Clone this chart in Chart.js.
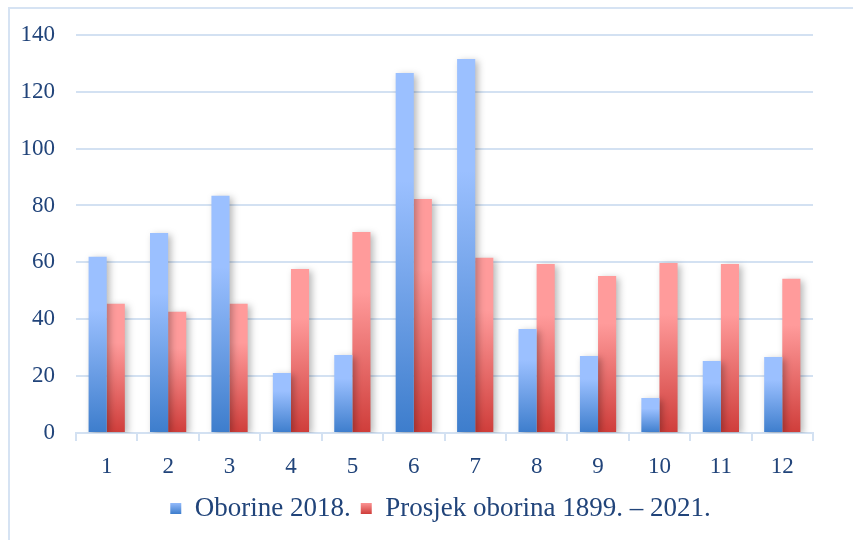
<!DOCTYPE html>
<html>
<head>
<meta charset="utf-8">
<script src="https://cdn.jsdelivr.net/npm/chart.js@4/dist/chart.umd.min.js"></script>
<style>
  html, body { margin: 0; padding: 0; background: #fff; }
  #wrap { width: 853px; height: 540px; position: relative; }
</style>
</head>
<body>
<div id="wrap"><canvas id="chart" width="853" height="540"></canvas></div>
<script>
// mjeseci
const months = ["1", "2", "3", "4", "5", "6", "7", "8", "9", "10", "11", "12"];
// Oborine 2018.
const rain2018 = [62, 70.3, 83.4, 21.1, 27.4, 126.6, 131.5, 36.6, 27.1, 12.3, 25.3, 26.7];
// Prosjek oborina 1899. - 2021.
const rainAvg = [45.4, 42.6, 45.4, 57.7, 70.7, 82.3, 61.6, 59.4, 55.2, 59.8, 59.4, 54.2];
const yTicks = [0, 20, 40, 60, 80, 100, 120, 140];

const textColor = "#21447a";
const gridColor = "#d3e1f2";
const blueTop = "#9bc0ff", blueBot = "#3d7dcc";
const redTop = "#ff9b9b", redBot = "#cf3d3a";

// gradient per bar, light on top, dark at the base
function grad(top, bottom, fallback) {
    return function (ctx) {
        const chart = ctx.chart;
        if (!chart.chartArea || ctx.type !== "data") return fallback;
        const y = chart.scales.y;
        const yTop = y.getPixelForValue(ctx.raw);
        const yBase = y.getPixelForValue(0);
        const g = chart.ctx.createLinearGradient(0, yTop, 0, yBase);
        g.addColorStop(0, top);
        g.addColorStop(0.3, top);
        g.addColorStop(1, bottom);
        return g;
    };
}

const shadow = {
    id: "shadow",
    beforeDatasetsDraw(chart) {
        const c = chart.ctx;
        c.save();
        c.shadowColor = "rgba(0,0,0,0.28)";
        c.shadowBlur = 7;
        c.shadowOffsetX = 3;
        c.shadowOffsetY = 2;
    },
    afterDatasetsDraw(chart) {
        chart.ctx.restore();
    }
};

const frame = {
    id: "frame",
    beforeDraw(chart) {
        const c = chart.ctx;
        c.save();
        c.fillStyle = "#fff";
        c.fillRect(0, 0, chart.width, chart.height);
        c.strokeStyle = "#d6e3f3";
        c.lineWidth = 2;
        c.strokeRect(9, 8, 900, 600);
        c.restore();
    }
};

// legend sits centred under the plot area, not the whole canvas
const legendShift = {
    id: "legendShift",
    afterLayout(chart) {
        const lg = chart.legend;
        if (!lg) return;
        lg.left += 29;
        lg.right += 29;
    }
};

new Chart(document.getElementById("chart"), {
    type: "bar",
    data: {
        labels: months,
        datasets: [
            {
                label: "Oborine 2018.",
                data: rain2018,
                backgroundColor: grad(blueTop, blueBot, "#6f9fe6")
            },
            {
                label: "Prosjek oborina 1899. – 2021.",
                data: rainAvg,
                backgroundColor: grad(redTop, redBot, "#e76b69")
            }
        ]
    },
    plugins: [frame, shadow, legendShift],
    options: {
        responsive: false,
        animation: false,
        layout: { padding: { left: 10, right: 40, top: 28, bottom: 8 } },
        datasets: { bar: { categoryPercentage: 0.59, barPercentage: 1 } },
        scales: {
            x: {
                afterFit(scale) { scale.height = 52; },
                grid: {
                    offset: true,
                    drawOnChartArea: false,
                    color: gridColor,
                    lineWidth: 2,
                    tickLength: 8
                },
                border: { color: gridColor, width: 2 },
                ticks: {
                    color: textColor,
                    font: { family: "Liberation Serif", size: 23 },
                    padding: 12
                }
            },
            y: {
                min: 0,
                max: 140,
                afterFit(scale) { scale.width = 66; },
                afterBuildTicks(scale) { scale.ticks = yTicks.map(v => ({ value: v })); },
                grid: { color: gridColor, lineWidth: 2, drawTicks: false },
                border: { display: false },
                ticks: {
                    color: textColor,
                    font: { family: "Liberation Serif", size: 23 },
                    padding: 21
                }
            }
        },
        plugins: {
            legend: {
                position: "bottom",
                labels: {
                    color: textColor,
                    font: { family: "Liberation Serif", size: 27 },
                    boxWidth: 11,
                    boxHeight: 11,
                    padding: 10,
                    generateLabels(chart) {
                        const items = Chart.defaults.plugins.legend.labels.generateLabels(chart);
                        const cols = [[blueTop, blueBot], [redTop, redBot]];
                        items.forEach((it, i) => {
                            const g = chart.ctx.createLinearGradient(0, 502, 0, 514);
                            g.addColorStop(0, cols[i][0]);
                            g.addColorStop(1, cols[i][1]);
                            it.fillStyle = g;
                            it.lineWidth = 0;
                            it.strokeStyle = "rgba(0,0,0,0)";
                        });
                        return items;
                    }
                }
            },
            tooltip: { enabled: false }
        }
    }
});
</script>
</body>
</html>
